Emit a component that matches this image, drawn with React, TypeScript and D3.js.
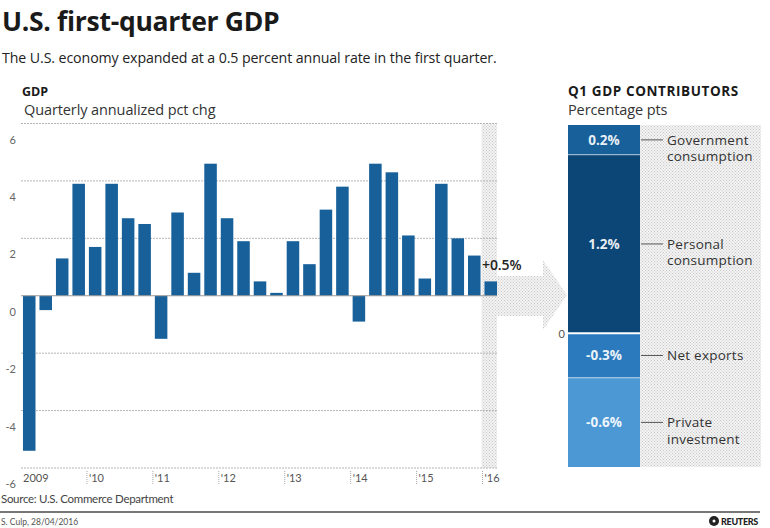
import React from 'react';
import * as d3 from 'd3';

// quarterly annualized GDP change, 2009Q1 - 2016Q1
const quarters = d3.range(2009, 2017).flatMap(y => (y < 2016 ? [1, 2, 3, 4] : [1]).map(q => `${y}Q${q}`));
const gdpValues = [
  -5.4, -0.5, 1.3, 3.9,
  1.7, 3.9, 2.7, 2.5,
  -1.5, 2.9, 0.8, 4.6,
  2.7, 1.9, 0.5, 0.1,
  1.9, 1.1, 3.0, 3.8,
  -0.9, 4.6, 4.3, 2.1,
  0.6, 3.9, 2.0, 1.4,
  0.5,
];
const yTicks = [6, 4, 2, 0, -2, -4, -6];
const years = [2009, 2010, 2011, 2012, 2013, 2014, 2015, 2016];
const yearLabels = ['2009', "'10", "'11", "'12", "'13", "'14", "'15", "'16"];

// Q1 2016 contributors, percentage points
const contribNames = [['Personal', 'consumption'], ['Government', 'consumption'], ['Net exports'], ['Private', 'investment']];
const contribValues = [1.2, 0.2, -0.3, -0.6];
const contribLabels = ['1.2%', '0.2%', '-0.3%', '-0.6%'];
const contribColors = ['#0b4677', '#17609a', '#2b7abd', '#4b98d4'];

const FONT = '"Open Sans", sans-serif';
const SMALL = 'Lato, sans-serif';
const BAR = '#17609a';

export default function App() {
  const x = d3.scaleBand<string>().domain(quarters).range([21, 499]).paddingInner(0.24).paddingOuter(0.12);
  const y = d3.scaleLinear().domain([-6, 6]).range([468, 123.5]);
  const gap = (x.step() - x.bandwidth()) / 2;

  const y2 = d3.scaleLinear().domain([-0.9, 1.4]).range([467, 125]);
  let pos = 0;
  let neg = 0;
  const segs = contribValues.map((v, i) => {
    const a = v >= 0 ? pos : neg;
    const b = a + v;
    if (v >= 0) pos = b; else neg = b;
    return { v, i, top: y2(Math.max(a, b)), bot: y2(Math.min(a, b)) };
  });
  const barX0 = 568;
  const barX1 = 640;

  const last = quarters[quarters.length - 1];
  const stripX0 = (x(last) as number) - gap - 1;
  const stripX1 = 497;

  return (
    <svg width={770} height={528} style={{ position: 'absolute', left: 0, top: 0, background: '#fff' }} fontFamily={FONT}>
      <defs>
        <pattern id="hatch" width={3} height={3} patternUnits="userSpaceOnUse">
          <rect width={3} height={3} fill="#f3f3f3" />
          <rect x={0} y={0} width={1} height={1} fill="#c8c8c8" />
          <rect x={1.5} y={1.5} width={1} height={1} fill="#c8c8c8" />
        </pattern>
      </defs>

      {/* titles */}
      <text x={2} y={31} fontSize={26.5} fontWeight={700} fill="#1a1a1a" letterSpacing={-0.3}>U.S. first-quarter GDP</text>
      <text x={2} y={63} fontSize={14.2} fill="#222" letterSpacing={-0.1}>The U.S. economy expanded at a 0.5 percent annual rate in the first quarter.</text>
      <text x={22} y={96} fontSize={12.5} fontWeight={700} fill="#1a1a1a">GDP</text>
      <text x={24} y={115} fontSize={14.5} fill="#333" letterSpacing={-0.1}>Quarterly annualized pct chg</text>
      <text x={568} y={96} fontSize={13.5} fontWeight={700} fill="#1a1a1a" letterSpacing={0.6}>Q1 GDP CONTRIBUTORS</text>
      <text x={568} y={115} fontSize={14.5} fill="#333" letterSpacing={-0.1}>Percentage pts</text>

      {/* hatched strip + arrow */}
      <rect x={stripX0} y={y(6)} width={stripX1 - stripX0} height={y(-6) - y(6)} fill="url(#hatch)" />
      <path d={`M${stripX1},276 L543,276 L543,260 L567,295 L543,330 L543,316 L${stripX1},316 Z`} fill="url(#hatch)" />

      {/* gridlines */}
      {yTicks.filter(t => t !== 0).map(t => (
        <line key={t} x1={21} x2={stripX1} y1={y(t)} y2={y(t)} stroke="#b5b5b5" strokeWidth={1} strokeDasharray="2,1" />
      ))}
      {yTicks.map(t => (
        <text key={t} x={16} y={y(t) + 20} fontSize={11} fontFamily={SMALL} fill="#666" textAnchor="end">{t}</text>
      ))}

      {/* bars */}
      {gdpValues.map((v, i) => (
        <rect key={quarters[i]} x={x(quarters[i])} width={x.bandwidth()}
          y={y(Math.max(0, v))} height={Math.abs(y(v) - y(0))} fill={BAR} />
      ))}
      <line x1={21} x2={stripX1} y1={y(0)} y2={y(0)} stroke="#9a9a9a" strokeWidth={1} />
      <text x={482} y={270} fontSize={14} fontWeight={600} fill="#222" letterSpacing={-0.1}>+0.5%</text>

      {/* year ticks */}
      {years.map((yr, i) => {
        const tx = (x(`${yr}Q1`) as number) - gap;
        return (
          <g key={yr}>
            {i > 0 && <line x1={tx} x2={tx} y1={471} y2={484} stroke="#aaa" strokeDasharray="1,1" />}
            <text x={tx + 2} y={482} fontSize={11} fontFamily={SMALL} fill="#555">{yearLabels[i]}</text>
          </g>
        );
      })}

      {/* contributors panel */}
      <rect x={barX0} y={125} width={761 - barX0} height={467 - 125} fill="url(#hatch)" />
      {segs.map(s => (
        <g key={s.i}>
          <rect x={barX0} y={s.top} width={barX1 - barX0} height={s.bot - s.top} fill={contribColors[s.i]} />
          <text x={(barX0 + barX1) / 2} y={(s.top + s.bot) / 2 + 5} fontSize={13.5} fontWeight={700} fill="#fff" textAnchor="middle"
            fillOpacity={0.92}>{contribLabels[s.i]}</text>
          <line x1={barX1 + 1} x2={663} y1={(s.top + s.bot) / 2} y2={(s.top + s.bot) / 2} stroke="#555" strokeWidth={1} />
          {contribNames[s.i].map((ln, j) => (
            <text key={j} x={667} y={(s.top + s.bot) / 2 + 5 + j * 16.5} fontSize={13.5} fill="#333" letterSpacing={0.25}>{ln}</text>
          ))}
        </g>
      ))}
      <line x1={barX0} x2={barX1} y1={y2(1.2)} y2={y2(1.2)} stroke="#fff" strokeOpacity={0.6} strokeWidth={1} />
      <line x1={barX0} x2={barX1} y1={y2(0)} y2={y2(0)} stroke="#fff" strokeWidth={2} />
      <line x1={barX0} x2={barX1} y1={y2(-0.3)} y2={y2(-0.3)} stroke="#fff" strokeOpacity={0.6} strokeWidth={1} />
      <text x={565} y={y2(0) + 5} fontSize={11} fontFamily={SMALL} fill="#555" textAnchor="end">0</text>

      {/* footer */}
      <text x={1} y={503} fontSize={11.5} fontFamily={SMALL} fill="#444" letterSpacing={-0.3}>Source: U.S. Commerce Department</text>
      <line x1={0} x2={760} y1={512} y2={512} stroke="#777" strokeWidth={2} />
      <text x={1} y={525} fontSize={8.5} fontFamily={SMALL} fill="#555">S. Culp, 28/04/2016</text>
      <circle cx={714} cy={521} r={5} fill="#222" />
      <circle cx={714} cy={521} r={1.5} fill="#fff" />
      <text x={721} y={524.5} fontSize={9} fontFamily={SMALL} fontWeight={900} fill="#222" letterSpacing={-0.3}>REUTERS</text>
    </svg>
  );
}
